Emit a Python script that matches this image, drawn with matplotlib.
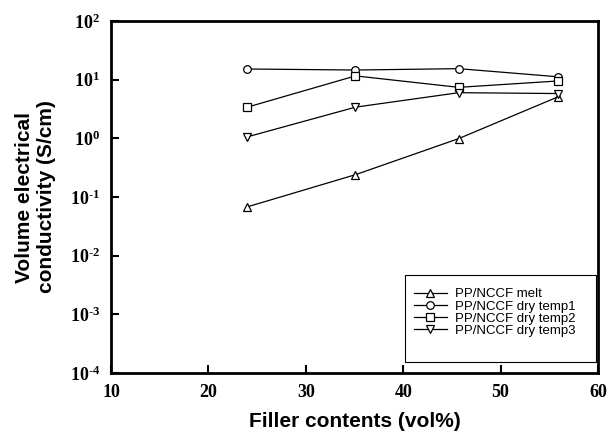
import math
import matplotlib
matplotlib.use("Agg")
from matplotlib import pyplot as plt
from matplotlib.patches import Rectangle
from matplotlib.ticker import FixedLocator, FuncFormatter

plt.rcParams['mathtext.fontset'] = 'custom'
plt.rcParams['mathtext.rm'] = 'Liberation Serif:bold'
plt.rcParams['mathtext.bf'] = 'Liberation Serif:bold'

filler = [24.0, 35.1, 45.7, 55.9]
melt = [0.068, 0.24, 0.99, 5.1]
dry_temp1 = [15.2, 14.6, 15.4, 11.2]
dry_temp2 = [3.4, 11.6, 7.4, 9.5]
dry_temp3 = [1.06, 3.4, 6.0, 5.8]

series = [(melt, '^', 'PP/NCCF melt'),
          (dry_temp1, 'o', 'PP/NCCF dry temp1'),
          (dry_temp2, 's', 'PP/NCCF dry temp2'),
          (dry_temp3, 'v', 'PP/NCCF dry temp3')]

fig = plt.figure(figsize=(6.08, 4.40), dpi=100)
ax = fig.add_axes([111/608, 1-373/440, (598-111)/608, (373-21)/440])

for vals, mk, lab in series:
    ax.plot(filler, vals, color='black', lw=0.9, marker=mk, ms=5.5,
            mfc='white', mec='black', mew=0.9, label=lab)


def ylab(v, pos):
    k = round(math.log10(v))
    s = str(k).replace('-', '\u2010')
    return r'$\mathrm{10^{%s}}$' % s


ax.set_yscale('log')
ax.set_xlim(10, 60)
ax.set_ylim(1e-4, 1e2)
ax.xaxis.set_major_locator(FixedLocator([10, 20, 30, 40, 50, 60]))
ax.yaxis.set_major_locator(FixedLocator([10.0**k for k in range(-4, 3)]))
ax.yaxis.set_minor_locator(FixedLocator([]))
ax.yaxis.set_major_formatter(FuncFormatter(ylab))

for s in ax.spines.values():
    s.set_linewidth(2)
ax.tick_params(direction='in', length=6, width=1.5, top=False, right=False, pad=8)
for t in ax.get_xticklabels():
    t.set_fontfamily('Liberation Serif')
    t.set_fontweight('bold')
    t.set_fontsize(13)
for t in ax.get_yticklabels():
    t.set_fontsize(13)

ax.set_xlabel('Filler contents (vol%)', fontfamily='Liberation Sans',
              fontweight='bold', fontsize=15, labelpad=8)
ax.set_ylabel('Volume electrical\nconductivity (S/cm)', fontfamily='Liberation Sans',
              fontweight='bold', fontsize=15, labelpad=10)

# legend box drawn separately (it has extra room below the entries)
ax.add_patch(Rectangle((0.604, 0.031), 0.392, 0.247, transform=ax.transAxes,
                       fill=True, facecolor='white', edgecolor='black', lw=0.8, zorder=4))
leg = ax.legend(loc='upper left', bbox_to_anchor=(0.622, 0.241),
                prop={'family': 'Liberation Sans', 'size': 9.5},
                frameon=False, handlelength=2.5, handletextpad=0.6,
                borderaxespad=0, borderpad=0, labelspacing=0.0)
leg.set_zorder(5)

fig.savefig('out.png', dpi=100)
